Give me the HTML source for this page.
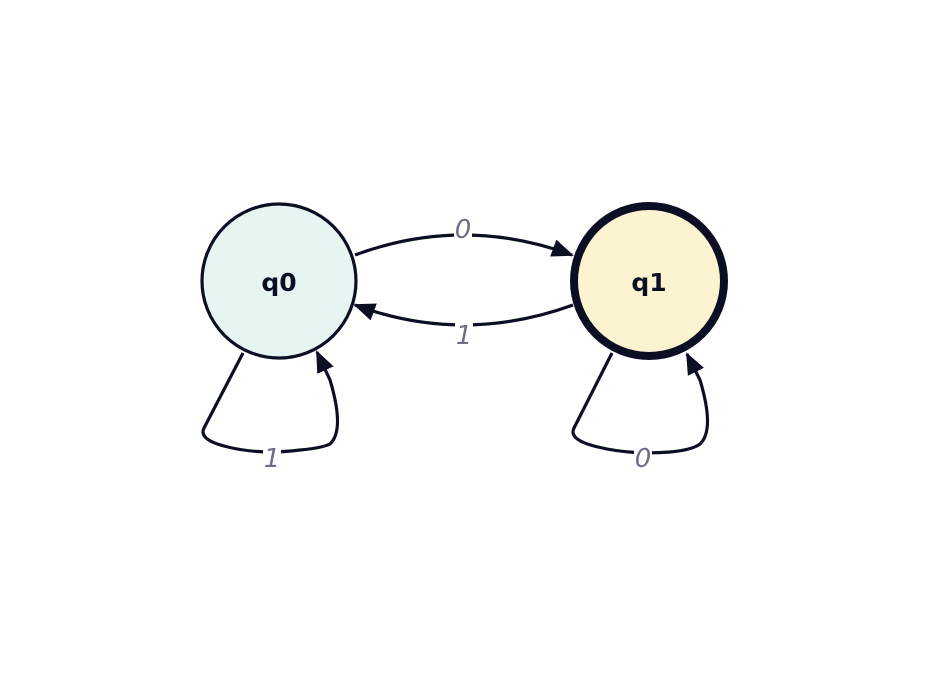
<!DOCTYPE html>
<html><head><style>body{margin:0;background:#fff}</style></head><body>
<svg width="930" height="676" viewBox="0 0 930 676" xmlns="http://www.w3.org/2000/svg">
<defs>
<marker id="b" markerWidth="22" markerHeight="22" refX="20" refY="11" orient="auto" markerUnits="userSpaceOnUse" viewBox="0 0 22 22"><path d="M0,2 L22,11 L0,20 Z" fill="#0c0f24"/></marker></defs>
<g fill="none" stroke="#0c0f24" stroke-width="3.2">
<path d="M355,255 Q463,215 572,255" marker-end="url(#b)"/>
<path d="M573,305 Q463,345 355,305" marker-end="url(#b)"/>
<path d="M243,353 L204,428 Q198,440 228,447 Q260,455 300,450 Q322,448 330,444 Q345,430 330,380 L317,352" marker-end="url(#b)"/>
<path d="M612,353 L574,428 Q568,440 598,447 Q630,455 670,452 Q692,450 700,444 Q715,430 700,380 L687,354" marker-end="url(#b)"/>
</g>
<circle cx="279" cy="281" r="77" fill="#e6f5f1" stroke="#0c0f24" stroke-width="3.2"/>
<circle cx="649" cy="281" r="75" fill="#fcf3d0" stroke="#0c0f24" stroke-width="8"/>
<g font-family="'DejaVu Sans','Liberation Sans',sans-serif" font-weight="bold" font-size="25" fill="#0c0f24" text-anchor="middle">
<text x="279" y="291">q0</text><text x="649" y="291">q1</text></g>
<g font-family="'DejaVu Sans','Liberation Sans',sans-serif" font-style="italic" font-size="26" fill="#6b6e85" text-anchor="middle">
<rect x="454" y="218" width="18" height="22" fill="#fff"/><text x="463" y="238">0</text>
<rect x="455" y="322" width="18" height="24" fill="#fff"/><text x="464" y="344">1</text>
<rect x="263" y="445" width="18" height="24" fill="#fff"/><text x="272" y="467">1</text>
<rect x="634" y="445" width="18" height="24" fill="#fff"/><text x="643" y="467">0</text>
</g>
</svg>
</body></html>
